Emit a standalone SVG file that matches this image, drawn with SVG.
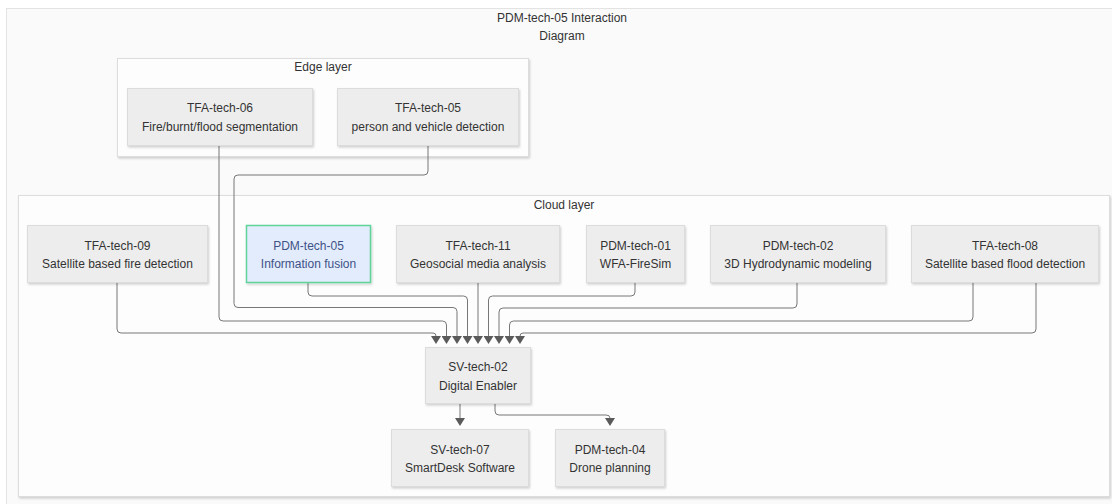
<svg xmlns="http://www.w3.org/2000/svg" width="1112" height="504" viewBox="0 0 1112 504">
  <style>
    text { font-family: "Liberation Sans", Arial, sans-serif; font-size: 12px; fill: #333333; text-anchor: middle; }
    .frame { fill: #fafafa; stroke: #e3e3e3; stroke-width: 1; }
    .layer { fill: #fdfdfd; stroke: #dddddd; stroke-width: 1; filter: url(#shadow); }
    .node rect { fill: #ededed; stroke: #dcdcdc; stroke-width: 1; filter: url(#shadow); }
    .node.focus rect { fill: #e3ecfd; stroke: #5ed39a; stroke-width: 1.5; }
    .node.focus text { fill: #3e5286; }
    .link { fill: none; stroke: #777777; stroke-width: 1; marker-end: url(#arrow); }
    .link.plain { marker-end: url(#arrow); }
  </style>
  <defs>
    <filter id="shadow" x="-10%" y="-10%" width="120%" height="130%">
      <feDropShadow dx="1" dy="1.5" stdDeviation="1.2" flood-color="#000000" flood-opacity="0.18"/>
    </filter>
    <marker id="arrow" viewBox="0 0 8 10" refX="0" refY="5" markerWidth="8" markerHeight="10" markerUnits="userSpaceOnUse" orient="auto">
      <path d="M0,0 L8,5 L0,10 z" fill="#5a5a5a"/>
    </marker>
  </defs>

  <rect width="1112" height="504" fill="#ffffff"/>

  <!-- outer frame with title -->
  <g id="frame">
    <rect class="frame" x="6.5" y="8.5" width="1111" height="500"/>
    <text x="562" y="22">PDM-tech-05 Interaction</text>
    <text x="562" y="40">Diagram</text>
  </g>

  <!-- layers -->
  <g id="edge-layer">
    <rect class="layer" x="117.5" y="58.5" width="411" height="98"/>
    <text x="323" y="71">Edge layer</text>
  </g>
  <g id="cloud-layer">
    <rect class="layer" x="18.5" y="195.5" width="1091" height="301"/>
    <text x="564" y="208.5">Cloud layer</text>
  </g>

  <!-- connectors -->
  <g id="connectors">
    <path class="link" d="M117,283 V329 Q117,333 121,333 H433 Q436,333 436,336"/>
    <path class="link" d="M219,146 V317 Q219,321 223,321 H442.5 Q446.5,321 446.5,325 V336"/>
    <path class="link" d="M428,146 V171 Q428,175 424,175 H238 Q234,175 234,179 V303.5 Q234,307.5 238,307.5 H453 Q457,307.5 457,311.5 V336"/>
    <path class="link" d="M308,283 V292 Q308,296 312,296 H463.5 Q467.5,296 467.5,300 V336"/>
    <path class="link" d="M478,283 V336"/>
    <path class="link" d="M635,283 V292 Q635,296 631,296 H492.5 Q488.5,296 488.5,300 V336"/>
    <path class="link" d="M797,283 V304 Q797,308 793,308 H503 Q499,308 499,312 V336"/>
    <path class="link" d="M973,283 V317 Q973,321 969,321 H513.5 Q509.5,321 509.5,325 V336"/>
    <path class="link" d="M1036,283 V329 Q1036,333 1032,333 H523 Q520,333 520,336"/>
    <path class="link" d="M460,404 V418"/>
    <path class="link" d="M495,404 V411 Q495,415 499,415 H606 Q610,415 610,418"/>
  </g>

  <!-- edge layer nodes -->
  <g id="tfa-tech-06" class="node">
    <rect x="127.5" y="88.5" width="185" height="57"/>
    <text x="220" y="112">TFA-tech-06</text>
    <text x="220" y="131">Fire/burnt/flood segmentation</text>
  </g>
  <g id="tfa-tech-05" class="node">
    <rect x="337.5" y="88.5" width="181" height="57"/>
    <text x="428" y="112">TFA-tech-05</text>
    <text x="428" y="131">person and vehicle detection</text>
  </g>

  <!-- cloud layer nodes -->
  <g id="tfa-tech-09" class="node">
    <rect x="27.5" y="225.5" width="180" height="57"/>
    <text x="117.5" y="249.5">TFA-tech-09</text>
    <text x="117.5" y="268">Satellite based fire detection</text>
  </g>
  <g id="pdm-tech-05" class="node focus">
    <rect x="246.5" y="225.5" width="124" height="57"/>
    <text x="308.5" y="249.5">PDM-tech-05</text>
    <text x="308.5" y="268">Information fusion</text>
  </g>
  <g id="tfa-tech-11" class="node">
    <rect x="396.5" y="225.5" width="163" height="57"/>
    <text x="478" y="249.5">TFA-tech-11</text>
    <text x="478" y="268">Geosocial media analysis</text>
  </g>
  <g id="pdm-tech-01" class="node">
    <rect x="586.5" y="225.5" width="98" height="57"/>
    <text x="635.5" y="249.5">PDM-tech-01</text>
    <text x="635.5" y="268">WFA-FireSim</text>
  </g>
  <g id="pdm-tech-02" class="node">
    <rect x="710.5" y="225.5" width="175" height="57"/>
    <text x="798" y="249.5">PDM-tech-02</text>
    <text x="798" y="268">3D Hydrodynamic modeling</text>
  </g>
  <g id="tfa-tech-08" class="node">
    <rect x="911.5" y="225.5" width="187" height="57"/>
    <text x="1005" y="249.5">TFA-tech-08</text>
    <text x="1005" y="268">Satellite based flood detection</text>
  </g>
  <g id="sv-tech-02" class="node">
    <rect x="425.5" y="347.5" width="105" height="56"/>
    <text x="478" y="371">SV-tech-02</text>
    <text x="478" y="390">Digital Enabler</text>
  </g>
  <g id="sv-tech-07" class="node">
    <rect x="391.5" y="429.5" width="137" height="57"/>
    <text x="460" y="453.5">SV-tech-07</text>
    <text x="460" y="472">SmartDesk Software</text>
  </g>
  <g id="pdm-tech-04" class="node">
    <rect x="555.5" y="429.5" width="109" height="57"/>
    <text x="610" y="453.5">PDM-tech-04</text>
    <text x="610" y="472">Drone planning</text>
  </g>
</svg>
